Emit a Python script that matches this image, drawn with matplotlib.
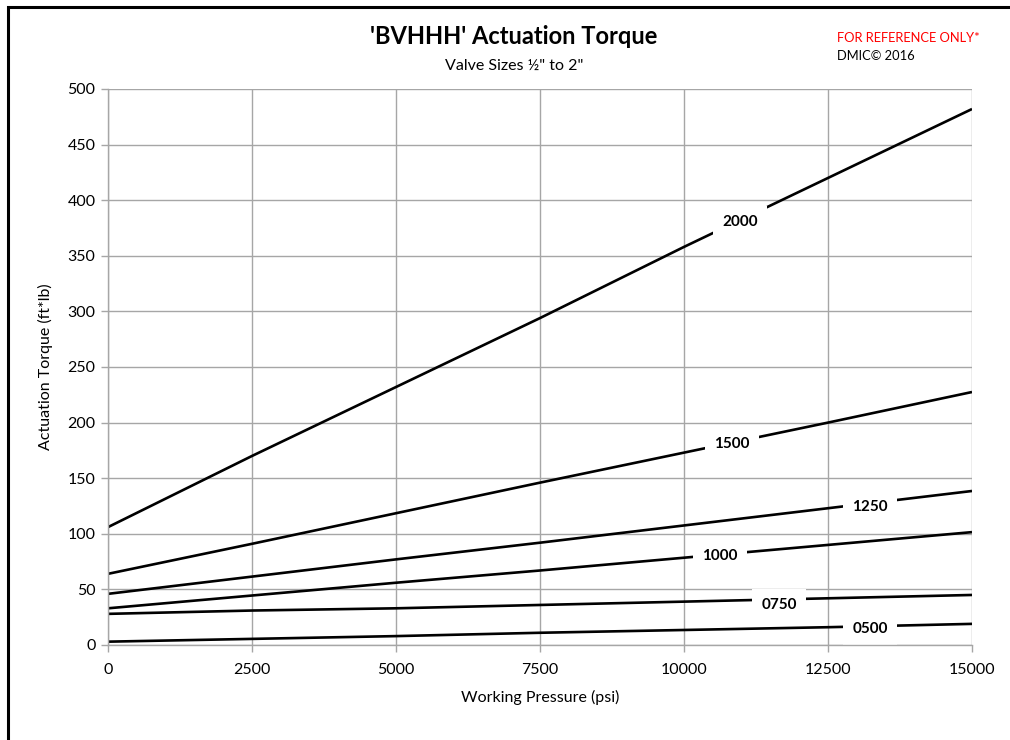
import numpy as np
import matplotlib
matplotlib.use("Agg")
import matplotlib.pyplot as plt
from matplotlib.patches import Rectangle

plt.rcParams['font.family'] = ['Lato', 'DejaVu Sans']

# working pressure (psi)
pressure = [0, 2500, 5000, 7500, 10000, 12500, 15000]

# actuation torque (ft*lb) per valve size
sizes = ["0500", "0750", "1000", "1250", "1500", "2000"]
torque_0500 = [3, 5.5, 8, 11, 13.5, 16, 19]
torque_0750 = [28, 31, 33, 36, 39, 42, 45]
torque_1000 = [33, 44.5, 56, 67, 78.5, 90, 101.5]
torque_1250 = [46, 61.5, 77, 92, 107.5, 123, 138.5]
torque_1500 = [64, 91, 118.5, 146, 173, 200, 227.5]
torque_2000 = [106, 170, 232, 294, 358, 420, 482]
series = [torque_0500, torque_0750, torque_1000, torque_1250, torque_1500, torque_2000]

# where each size label sits along its curve
label_x = [13229, 11649, 10625, 13229, 10833, 10972]
label_dy = [-2.5, -5, -1.5, -3.5, -1, -1.5]

fig = plt.figure(figsize=(10.1, 7.4), dpi=100)
ax = fig.add_axes([108 / 1010, 1 - 645 / 740, 864 / 1010, 556 / 740])

for vals in series:
    ax.plot(pressure, vals, color='black', lw=1.9, solid_capstyle='butt', zorder=2.2)

# labels break the curves, but stay under the axis spines
for name, vals, lx, dy in zip(sizes, series, label_x, label_dy):
    ly = np.interp(lx, pressure, vals) + dy
    ax.text(lx, ly, name, ha='center', va='center', fontsize=11, fontweight='bold',
            zorder=2.4, bbox=dict(boxstyle='square,pad=0.6', fc='white', ec='none'))

ax.set_xlim(0, 15000)
ax.set_ylim(0, 500)
ax.set_xticks(np.arange(0, 15001, 2500))
ax.set_yticks(np.arange(0, 501, 50))
ax.grid(True, color='#a6a6a6', lw=1.0, zorder=0)
ax.set_axisbelow(True)
for side in ['top', 'right']:
    ax.spines[side].set_visible(False)
for side in ['left', 'bottom']:
    ax.spines[side].set_color('#a6a6a6')
    ax.spines[side].set_linewidth(1.0)
ax.tick_params(axis='both', colors='#a6a6a6', labelcolor='black', labelsize=11.5,
               length=5, width=1.0)
ax.tick_params(axis='x', pad=8)
ax.tick_params(axis='y', pad=4)

ax.set_xlabel("Working Pressure (psi)", fontsize=11.5, labelpad=9)
ax.set_ylabel("Actuation Torque (ft*lb)", fontsize=11.5, labelpad=10)

fig.text(514 / 1010, 1 - 36 / 740, "'BVHHH' Actuation Torque", ha='center', va='center',
         fontsize=17, fontweight='bold')
fig.text(514 / 1010, 1 - 66 / 740, 'Valve Sizes \u00bd" to 2"', ha='center', va='center',
         fontsize=11.5)
fig.text(837 / 1010, 1 - 38 / 740, "FOR REFERENCE ONLY*", ha='left', va='center',
         fontsize=9.3, color='red')
fig.text(837 / 1010, 1 - 56 / 740, "DMIC\u00a9 2016", ha='left', va='center',
         fontsize=9.3)

# chart frame (only left and top edges fall inside the picture)
fig.patches.append(Rectangle((8 / 1010, -0.2), 1.2, 1.2 - 7 / 740,
                             transform=fig.transFigure, fill=False, ec='black',
                             lw=2.2, clip_on=False))

fig.savefig("out.png", dpi=100)
